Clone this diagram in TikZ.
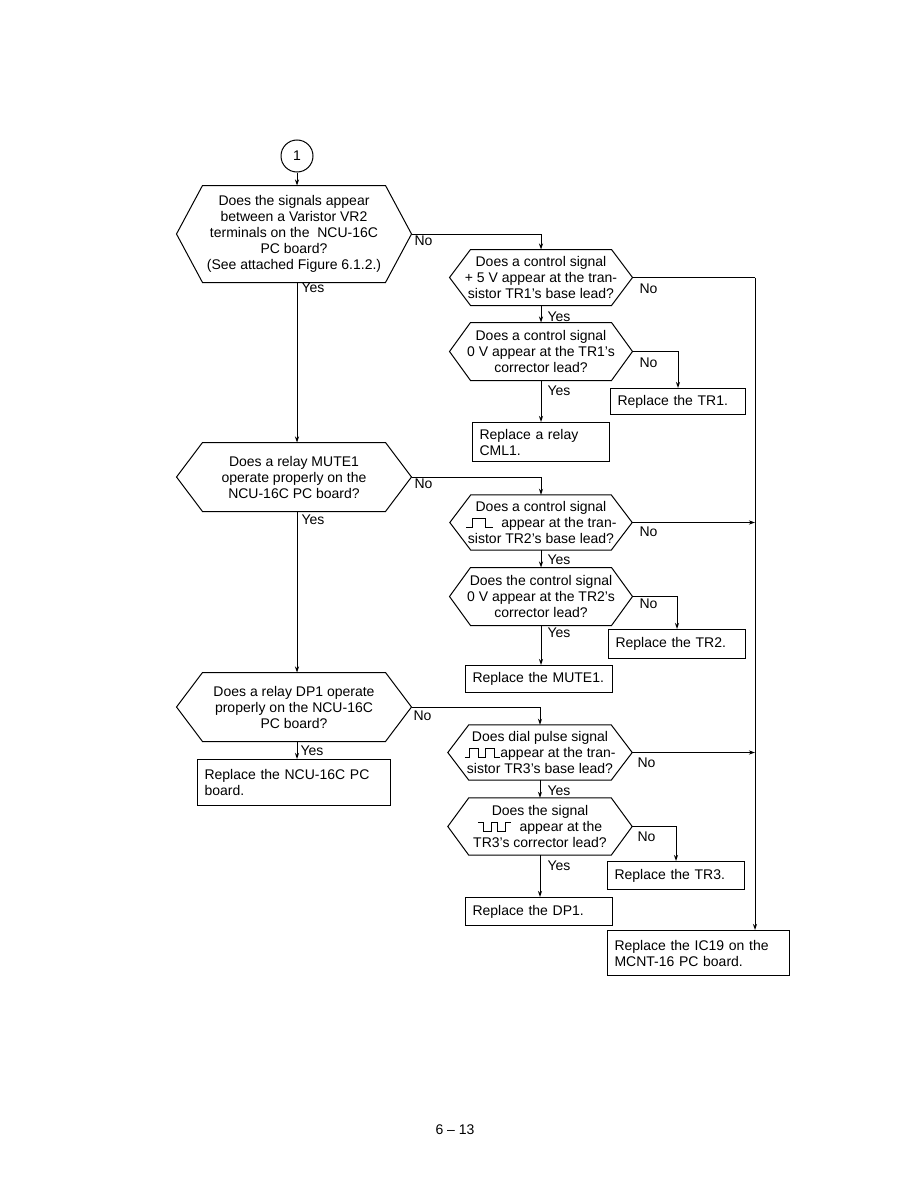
\documentclass[tikz,border=0pt]{standalone}
\usepackage{fontspec}
\setmainfont{Liberation Sans}
\usetikzlibrary{arrows.meta}
\newcommand{\hexq}[7]{% name, cx, cy, width, height, inset, text
  \node[qtext, minimum width=#4pt, minimum height=#5pt] (#1) at (#2,#3) {#7};
  \draw (#1.west) -- ([xshift=#6pt]#1.north west) -- ([xshift=-#6pt]#1.north east)
        -- (#1.east) -- ([xshift=-#6pt]#1.south east) -- ([xshift=#6pt]#1.south west) -- cycle;}
\newcommand{\pulseone}{\tikz[baseline=0pt,x=1pt,y=1pt,line width=1pt]
  \draw (0,0) -- (6,0) -- (6,9.5) -- (19,9.5) -- (19,0) -- (27,0);}
\newcommand{\pulsetwo}{\tikz[baseline=0pt,x=1pt,y=1pt,line width=1pt]
  \draw (0,0) -- (5,0) -- (5,9.5) -- (14,9.5) -- (14,0) -- (21,0) -- (21,9.5) -- (30,9.5) -- (30,0) -- (35,0);}
\newcommand{\pulseinv}{\tikz[baseline=0pt,x=1pt,y=1pt,line width=1pt]
  \draw (0,9.5) -- (5,9.5) -- (5,0) -- (13,0) -- (13,9.5) -- (19,9.5) -- (19,0) -- (27,0) -- (27,9.5) -- (33,9.5);}
\begin{document}
\begin{tikzpicture}[x=1pt,y=-1pt,line width=1pt,
  >={Stealth[length=6pt,width=4pt]},
  font=\fontsize{14}{16}\selectfont,
  qtext/.style={align=center,inner sep=0pt},
  box/.style={draw,anchor=north west,inner xsep=7pt,inner ysep=0pt,align=left},
  lab/.style={anchor=west,inner sep=0pt}]
\useasboundingbox (0,0) rectangle (918,1188);

% start
\node[draw,circle,minimum size=32pt,inner sep=0pt] (c1) at (297,156) {1};

% left column
\hexq{h1}{294}{234}{234}{96}{26}{Does the signals appear\\between a Varistor VR2\\terminals on the\ \ NCU-16C\\PC board?\\(See attached Figure 6.1.2.)}
\hexq{h2}{294}{477}{234}{68}{26}{Does a relay MUTE1\\operate properly on the\\NCU-16C PC board?}
\hexq{h3}{294}{707}{234}{68}{26}{Does a relay DP1 operate\\properly on the NCU-16C\\PC board?}

% right column
\hexq{hA}{541}{277.5}{182}{55}{21}{Does a control signal\\+ 5 V appear at the tran-\\sistor TR1’s base lead?}
\hexq{hB}{541}{351.5}{182}{57}{21}{Does a control signal\\0 V appear at the TR1’s\\corrector lead?}
\hexq{hC}{541}{522.5}{182}{55}{21}{Does a control signal\\\pulseone\ \ appear at the tran-\\sistor TR2’s base lead?}
\hexq{hD}{541}{596.5}{182}{57}{21}{Does the control signal\\0 V appear at the TR2’s\\corrector lead?}
\hexq{hE}{540}{752.5}{184}{55}{21}{Does dial pulse signal\\\pulsetwo appear at the tran-\\sistor TR3’s base lead?}
\hexq{hF}{540}{826.5}{184}{57}{21}{Does the signal\\\pulseinv\ \ appear at the\\TR3’s corrector lead?}

% boxes
\node[box,text width=121pt,minimum height=26pt] (tr1) at (610,388) {Replace the TR1.};
\node[box,text width=123pt,minimum height=39pt] (cml) at (472,422) {Replace a relay\\CML1.};
\node[box,text width=123pt,minimum height=29pt] (tr2) at (608,629) {Replace the TR2.};
\node[box,text width=133pt,minimum height=27pt] (mute) at (465,665) {Replace the MUTE1.};
\node[box,text width=179pt,minimum height=46pt] (ncu) at (197,759) {Replace the NCU-16C PC\\board.};
\node[box,text width=123pt,minimum height=28pt] (tr3) at (607,861) {Replace the TR3.};
\node[box,text width=133pt,minimum height=28pt] (dp1) at (465,897) {Replace the DP1.};
\node[box,text width=168pt,minimum height=45pt] (fin) at (607,930) {Replace the IC19 on the\\MCNT-16 PC board.};

\coordinate (rt) at (755,277.5);

% connectors left column
\draw[->] (c1) -- (c1 |- h1.north);
\draw[->] (c1 |- h1.south) -- (c1 |- h2.north);
\draw[->] (c1 |- h2.south) -- (c1 |- h3.north);
\draw[->] (c1 |- h3.south) -- (c1 |- ncu.north);
\draw[->] (h1.east) -| (hA.north);
\draw[->] (h2.east) -| (hC.north);
\draw[->] (h3.east) -| (hE.north);

% connectors right column
\draw (hA.east) -- (rt);
\draw[->] (rt) -- (rt |- fin.north);
\draw[->] (hC.east) -- (hC.east -| rt);
\draw[->] (hE.east) -- (hE.east -| rt);
\draw[->] (hA.south) -- (hB.north);
\draw[->] (hC.south) -- (hD.north);
\draw[->] (hE.south) -- (hF.north);
\draw[->] (hB.east) -| (tr1.north);
\draw[->] (hD.east) -| (tr2.north);
\draw[->] (hF.east) -| (tr3.north);
\draw[->] (hB.south) -- (hB.south |- cml.north);
\draw[->] (hD.south) -- (hD.south |- mute.north);
\draw[->] (hF.south) -- (hF.south |- dp1.north);

% labels
\node[lab] (n1) at (414,241) {No};
\node[lab] (y1) at (301,288) {Yes};
\node[lab] (n2) at (414,484) {No};
\node[lab] (y2) at (301,520) {Yes};
\node[lab] (n3) at (413,716) {No};
\node[lab] (y3) at (300,751) {Yes};
\node[lab] (nA) at (639,289) {No};
\node[lab] (yA) at (547,317) {Yes};
\node[lab] (nB) at (639,363) {No};
\node[lab] (yB) at (547,391) {Yes};
\node[lab] (nC) at (639,532) {No};
\node[lab] (yC) at (547,560) {Yes};
\node[lab] (nD) at (639,604) {No};
\node[lab] (yD) at (547,633) {Yes};
\node[lab] (nE) at (637,763) {No};
\node[lab] (yE) at (547,791) {Yes};
\node[lab] (nF) at (637,837) {No};
\node[lab] (yF) at (547,866) {Yes};

% page number
\node (pg) at (455,1130) {6 -- 13};
\end{tikzpicture}
\end{document}
